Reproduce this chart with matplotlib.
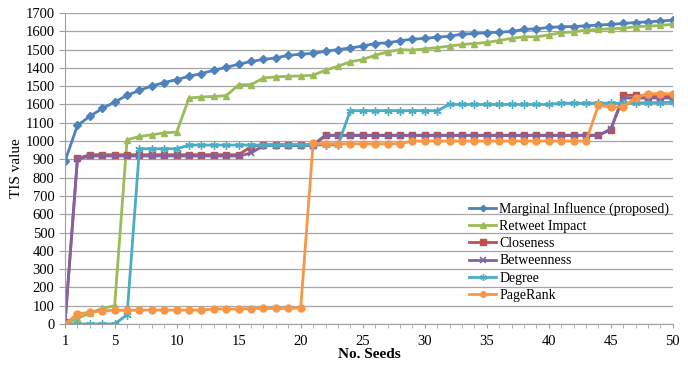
import matplotlib.pyplot as plt

seeds = list(range(1, 51))

marginal_influence = [
    890, 1085, 1135, 1178, 1213, 1250, 1277, 1301, 1320, 1336,
    1354, 1369, 1387, 1403, 1420, 1435, 1446, 1455, 1468, 1475,
    1479, 1491, 1500, 1509, 1519, 1533, 1537, 1548, 1557, 1561,
    1568, 1573, 1584, 1588, 1592, 1595, 1599, 1610, 1614, 1621,
    1625, 1626, 1630, 1634, 1638, 1643, 1648, 1652, 1656, 1661
]

retweet_impact = [
    0, 30, 60, 85, 100, 1007, 1025, 1034, 1045, 1049,
    1235, 1241, 1244, 1248, 1308, 1308, 1345, 1351, 1354, 1356,
    1360, 1387, 1409, 1433, 1446, 1469, 1487, 1500, 1497, 1504,
    1511, 1519, 1528, 1533, 1539, 1550, 1561, 1570, 1570, 1580,
    1592, 1597, 1606, 1610, 1614, 1617, 1625, 1628, 1632, 1638
]

closeness = [
    10, 905, 925, 925, 925, 925, 925, 925, 925, 925,
    925, 925, 925, 925, 925, 970, 980, 980, 980, 980,
    980, 1032, 1032, 1032, 1032, 1032, 1032, 1032, 1032, 1032,
    1032, 1032, 1032, 1032, 1032, 1032, 1032, 1032, 1032, 1032,
    1032, 1032, 1032, 1032, 1062, 1250, 1250, 1243, 1243, 1243
]

betweenness = [
    0, 900, 918, 918, 918, 918, 918, 918, 918, 918,
    918, 918, 918, 918, 918, 935, 975, 975, 975, 975,
    975, 1030, 1030, 1030, 1030, 1030, 1030, 1030, 1030, 1030,
    1030, 1030, 1030, 1030, 1030, 1030, 1030, 1030, 1030, 1030,
    1030, 1030, 1030, 1030, 1067, 1235, 1235, 1235, 1235, 1235
]

degree = [
    0, 0, 0, 0, 0, 50, 958, 958, 958, 958,
    978, 978, 978, 978, 978, 978, 978, 978, 978, 978,
    978, 978, 978, 1166, 1166, 1166, 1166, 1166, 1166, 1166,
    1166, 1200, 1200, 1200, 1200, 1200, 1200, 1200, 1200, 1200,
    1207, 1207, 1207, 1207, 1207, 1207, 1208, 1210, 1210, 1212
]

pagerank = [
    0, 55, 64, 71, 76, 75, 76, 76, 76, 76,
    76, 76, 82, 82, 82, 84, 85, 85, 85, 88,
    988, 985, 985, 985, 985, 985, 985, 985, 1000, 1000,
    1000, 1000, 1000, 1000, 1000, 1000, 1000, 1000, 1000, 1000,
    1000, 1000, 1000, 1195, 1186, 1186, 1237, 1259, 1259, 1259
]

y_ticks = list(range(0, 1800, 100))
y_tick_labels = ['0', '100', '200', '300', '400', '500', '600', '700', '800', '900',
                 '1000', '1100', '1600', '1500', '1400', '1500', '1600', '1700']
x_ticks = [1, 5, 10, 15, 20, 25, 30, 35, 40, 45, 50]

plt.rcParams['font.family'] = ['Liberation Serif', 'DejaVu Serif']

fig = plt.figure(figsize=(6.88, 3.66), dpi=100)
ax = fig.add_axes([0.0945, 0.1148, 0.8835, 0.8497])

ax.plot(seeds, marginal_influence, color='#4F81BD', lw=2, marker='D', ms=4, label='Marginal Influence (proposed)')
ax.plot(seeds, retweet_impact, color='#9BBB59', lw=2, marker='^', ms=5, label='Retweet Impact')
ax.plot(seeds, closeness, color='#C0504D', lw=2, marker='s', ms=5, label='Closeness')
ax.plot(seeds, betweenness, color='#8064A2', lw=2, marker='x', ms=5, mew=1.2, label='Betweenness')
ax.plot(seeds, degree, color='#4BACC6', lw=2, marker=(6, 2, 0), ms=6, mew=1, label='Degree')
ax.plot(seeds, pagerank, color='#F79646', lw=2, marker='o', ms=5, label='PageRank')

ax.set_xlim(1, 50)
ax.set_ylim(0, 1700)
ax.set_xticks(x_ticks)
ax.set_xticks(seeds, minor=True)
ax.set_yticks(y_ticks)
ax.set_yticklabels(y_tick_labels)
ax.tick_params(axis='both', labelsize=10.5, colors='#000000')
ax.tick_params(axis='y', length=4, color='#A0A0A0')
ax.tick_params(axis='x', which='both', length=3, color='#A0A0A0', pad=5)

ax.grid(axis='y', color='#A6A6A6', lw=0.9)
ax.set_axisbelow(True)
for s in ['top', 'right']:
    ax.spines[s].set_visible(False)
ax.spines['left'].set_color('#A0A0A0')
ax.spines['bottom'].set_color('#A0A0A0')

ax.set_ylabel('TIS value', fontsize=11, labelpad=2)
ax.set_xlabel('No. Seeds', fontsize=11, fontweight='bold', labelpad=0)

ax.legend(loc='upper left', bbox_to_anchor=(0.655, 0.41), frameon=False, fontsize=10,
          handlelength=2.0, handletextpad=0.2, labelspacing=0.3, borderaxespad=0,
          markerscale=0.8)

fig.savefig('out.png', dpi=100)
